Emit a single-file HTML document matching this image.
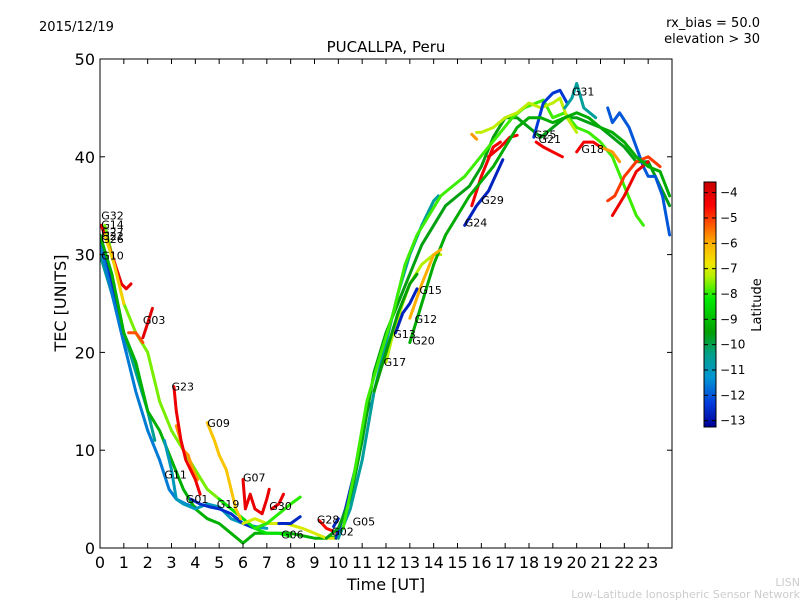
<!DOCTYPE html>
<html><head><meta charset="utf-8"><style>
body{margin:0;background:#fff;}
svg{display:block;font-family:"DejaVu Sans","Liberation Sans",sans-serif;}
</style></head><body>
<svg id="chart" width="800" height="600" viewBox="0 0 800 600">
<defs>
<linearGradient id="cbgrad" x1="0" y1="1" x2="0" y2="0"></linearGradient>
<clipPath id="plotclip"><rect x="100" y="59" width="572" height="489"/></clipPath>
</defs>
<rect x="0" y="0" width="800" height="600" fill="#fff"/>
<text x="39" y="31" font-size="13">2015/12/19</text>
<text x="760" y="27" font-size="13" text-anchor="end">rx_bias = 50.0</text>
<text x="760" y="43" font-size="13" text-anchor="end">elevation &gt; 30</text>
<text x="386" y="52" font-size="15" text-anchor="middle">PUCALLPA, Peru</text>
<g id="tracks" clip-path="url(#plotclip)"></g>
<g id="labels"></g>
<rect x="100" y="59" width="572" height="489" fill="none" stroke="#000" stroke-width="1"/>
<g id="axes"></g>
<text x="386" y="590" font-size="16" text-anchor="middle">Time [UT]</text>
<text x="66" y="303" font-size="16" text-anchor="middle" transform="rotate(-90 66 303)">TEC [UNITS]</text>
<rect id="cbar" x="704" y="182" width="12" height="245" fill="url(#cbgrad)" stroke="#000" stroke-width="1"/>
<g id="cbticks"></g>
<text x="761" y="305" font-size="13" text-anchor="middle" transform="rotate(-90 761 305)">Latitude</text>
<text x="800" y="586" font-size="11" fill="#ccc" text-anchor="end">LISN</text>
<text x="800" y="598" font-size="11" fill="#ccc" text-anchor="end">Low-Latitude Ionospheric Sensor Network</text>
</svg>
<script>
const xTicks=[0,1,2,3,4,5,6,7,8,9,10,11,12,13,14,15,16,17,18,19,20,21,22,23];
const yTicks=[0,10,20,30,40,50];
const cbTicks=[-4,-5,-6,-7,-8,-9,-10,-11,-12,-13];
const trackLat=[-10.5,-12.6,-11.6,-9.2,-7.6,-4.2,-5.2,-4.1,-6.5,-5.8,-11,-12.5,-8.3,-4.3,-6.3,-4.2,-7,-8,-12.6,-4.3,-12.6,-4.6,-12.6,-9.6,-10.6,-7.9,-7.2,-5.8,-12.7,-4.4,-4.3,-12.4,-4.4,-10.6,-4.4,-5.8,-12,-5,-4.3,-7.3,-9.3,-6,-12.7,-9.5];
const trackPts=[
[[0,30],[0.5,26],[1,22],[1.5,18],[2,14],[2.3,11]],
[[0,32],[0.5,27],[0.8,23],[1.1,20]],
[[0,31],[0.5,26],[1,21],[1.5,16],[2,12],[2.5,9],[2.9,6],[3.2,5],[3.6,4.5],[4,4.2]],
[[0,32],[0.5,28],[1,22],[1.5,19],[2,14],[2.5,12],[3,9],[3.5,6],[4,4],[4.5,3],[5,2.5],[5.5,1.5],[6,0.5],[6.5,1.5],[7,1.5],[8,1.5],[9,1],[9.5,1],[10,1.2]],
[[0.2,33],[0.6,29],[1,25],[1.5,22],[2,20],[2.5,15],[3,12],[3.5,10],[4,8],[4.5,6],[5,5],[5.5,4],[6,3]],
[[0.05,33],[0.5,30],[0.9,27],[1.1,26.5],[1.3,27]],
[[1.2,22],[1.5,22],[1.8,21]],
[[1.8,21.5],[2,23],[2.2,24.5]],
[[0.2,32],[0.6,29],[1,25]],
[[3.2,12.5],[3.5,10],[3.7,9.5],[3.9,8],[4.1,7]],
[[2.7,11],[3,8],[3.2,5],[3.5,4.5],[4,4],[4.5,4.5],[5,4.2],[5.5,3],[6,2.5],[6.5,2.2],[7,2]],
[[3.8,5],[4.2,4.5],[4.6,4.2],[5,4],[5.5,3.5],[6,2.5],[6.5,2],[7,2.5]],
[[5,5],[5.5,4],[6,3],[6.5,2],[7,1.5],[7.5,1.5],[8,1.2]],
[[3.1,16.5],[3.2,14],[3.4,11],[3.6,9],[3.8,8],[4,7],[4.2,5.5]],
[[4.5,12.8],[4.8,11],[5,9.5],[5.3,8],[5.5,6],[5.7,4],[5.9,3]],
[[6,7],[6.1,4],[6.3,5.5],[6.5,4],[6.8,3.5],[7,5],[7.1,6]],
[[6,2.5],[6.5,3],[7,2.5],[7.5,2.5],[7.8,2.5],[8.5,2],[9,1.5],[9.5,1],[10,1]],
[[6.5,2],[7,2.5],[7.5,3.5],[8,4.5],[8.4,5.2]],
[[7.5,2.5],[8,2.5],[8.4,3.2]],
[[7.2,4],[7.5,4.5],[7.7,5.5]],
[[9.8,2.2],[10,3]],
[[9.2,2.8],[9.5,2],[10,1.5]],
[[9.9,1],[10.3,4],[10.7,8],[11,12],[11.3,14.8]],
[[9.5,1],[10,2],[10.5,5],[11,11],[11.5,18],[12,22],[12.5,25],[13,28],[13.5,31],[14,33],[14.5,35],[15,36],[15.5,37],[16,39],[16.5,42],[17,44],[17.5,44],[18,43],[18.5,42],[19,43],[19.5,44],[20,44],[20.5,43.5],[21,43],[21.5,42],[22,41],[22.5,39.5],[23,39.5],[23.5,37],[23.9,35]],
[[10,1],[10.5,4],[11,9],[11.5,16],[12,21],[12.5,26],[13,30],[13.5,33],[14,35.5],[14.2,36]],
[[10.2,2],[10.7,8],[11.2,15],[11.8,20],[12.3,24],[12.8,29],[13.3,32],[13.8,34],[14.3,36],[14.8,37],[15.3,38],[15.8,39.5],[16.3,41],[16.8,42.5],[17.3,44],[17.8,45],[18.3,45.5],[18.6,45.8],[19,44],[19.5,44.5],[20,43],[20.5,42.5],[21,41.5],[21.5,40],[22,37],[22.5,34],[22.8,33]],
[[15.8,42.5],[16,42.5],[16.5,43],[17,44],[17.5,44.5],[18,45.5],[18.5,45],[19,45.5],[19.3,46],[19.6,44],[20,42.5]],
[[15.6,42.3],[15.8,41.8]],
[[15.3,33],[15.8,35],[16.3,36.5],[16.9,39.7]],
[[15.6,35],[16,38],[16.5,41],[16.8,41.5]],
[[16.3,40],[16.8,41],[17.2,42],[17.5,42.2]],
[[18.2,42],[18.6,45.5],[19,46.5],[19.3,46.8],[19.6,45.5]],
[[18.3,41.5],[18.6,41],[19,40.5],[19.4,40]],
[[19.5,45],[19.8,46],[20,47.5],[20.3,45],[20.8,44]],
[[20,40.5],[20.3,41.5],[20.7,41.5],[21,41]],
[[21,41],[21.5,40.5],[21.8,39.5]],
[[21.3,45],[21.5,43.5],[21.8,44.5],[22.2,43],[22.5,41],[22.8,39],[23,38],[23.3,38],[23.6,36],[23.9,32]],
[[21.3,35.5],[21.6,36],[22,38],[22.5,39.5],[23,40],[23.5,39]],
[[21.5,34],[22,36],[22.5,38.5],[23,39.5]],
[[12,19],[12.3,22],[12.7,25],[13,27],[13.5,29],[14,30],[14.3,30]],
[[13,21],[13.5,25],[14,29],[14.5,32],[15,34],[15.5,36],[16,37.5],[16.5,39],[17,41],[17.5,43],[18,44],[18.5,44],[19,43.5],[19.5,44],[20,44.5],[20.5,44],[21,43],[21.5,42.5],[22,41.5],[22.5,40],[23,39],[23.5,38.5],[23.9,36]],
[[13,23.5],[13.5,27],[14,30],[14.3,30.5]],
[[12.4,22],[12.7,24],[13,25],[13.3,26.5]],
[[11.5,16],[12,20],[12.5,24],[13,27],[13.3,28]]
];
const labelNames=["G32","G14","G27","G22","G26","G10","G03","G23","G09","G11","G01","G19","G07","G30","G06","G28","G02","G05","G17","G13","G20","G12","G15","G24","G29","G25","G21","G31","G18"];
const labelT=[0.05,0.05,0.05,0.05,0.05,0.05,1.8,3.0,4.5,2.7,3.6,4.9,6.0,7.1,7.6,9.1,9.7,10.6,11.9,12.3,13.1,13.2,13.4,15.3,16.0,18.2,18.4,19.8,20.2];
const labelV=[34,33.1,32.3,31.9,31.6,29.9,23.3,16.5,12.8,7.5,5.0,4.5,7.2,4.3,1.4,2.9,1.7,2.7,19.0,21.9,21.2,23.4,26.4,33.3,35.6,42.3,41.8,46.7,40.8];

const NS='http://www.w3.org/2000/svg';
const X0=100,X1=672,Y0=548,Y1=59;
function xs(t){return X0+t*(X1-X0)/24;}
function ys(v){return Y0-v*(Y0-Y1)/50;}
const cbMin=-13.25,cbMax=-3.58;
function cbY(l){return 427-(l-cbMin)*245/(cbMax-cbMin);}
const stops=[[-13.25,[0,0,150]],[-12.3,[0,60,220]],[-11.3,[0,150,210]],[-10.4,[0,160,140]],[-9.5,[0,160,0]],[-8.2,[0,235,0]],[-7.3,[180,240,0]],[-6.8,[240,230,0]],[-6,[255,175,0]],[-5.2,[255,80,0]],[-4.5,[250,0,0]],[-3.58,[200,0,0]]];
function col(l){
  if(l<=stops[0][0])return 'rgb('+stops[0][1]+')';
  for(let i=1;i<stops.length;i++){if(l<=stops[i][0]){const a=stops[i-1],b=stops[i],f=(l-a[0])/(b[0]-a[0]);return 'rgb('+a[1].map((c,k)=>Math.round(c+(b[1][k]-c)*f)).join(',')+')';}}
  return 'rgb('+stops[stops.length-1][1]+')';
}
const grad=document.getElementById('cbgrad');
stops.forEach(s=>{const st=document.createElementNS(NS,'stop');st.setAttribute('offset',((s[0]-cbMin)/(cbMax-cbMin)).toFixed(3));st.setAttribute('stop-color',col(s[0]));grad.appendChild(st);});

const tg=document.getElementById('tracks');
trackPts.forEach((pts,i)=>{
  const p=document.createElementNS(NS,'polyline');
  p.setAttribute('points',pts.map(q=>xs(q[0]).toFixed(1)+','+ys(q[1]).toFixed(1)).join(' '));
  p.setAttribute('fill','none');p.setAttribute('stroke',col(trackLat[i]));
  p.setAttribute('stroke-width','3');p.setAttribute('stroke-linejoin','round');p.setAttribute('stroke-linecap','round');
  
  
  tg.appendChild(p);
});
const lg=document.getElementById('labels');
labelNames.forEach((n,i)=>{
  const t=document.createElementNS(NS,'text');
  t.setAttribute('x',xs(labelT[i]).toFixed(1));t.setAttribute('y',(ys(labelV[i])+4).toFixed(1));
  t.setAttribute('font-size','11');t.textContent=n;
  
  
  lg.appendChild(t);
});
const ag=document.getElementById('axes');
function line(g,x1,y1,x2,y2){const l=document.createElementNS(NS,'line');l.setAttribute('x1',x1);l.setAttribute('y1',y1);l.setAttribute('x2',x2);l.setAttribute('y2',y2);l.setAttribute('stroke','#000');l.setAttribute('stroke-width','1');g.appendChild(l);return l;}
xTicks.forEach(v=>{
  const x=xs(v);line(ag,x,Y0,x,Y0-5);line(ag,x,Y1,x,Y1+5);
  const t=document.createElementNS(NS,'text');t.setAttribute('x',x);t.setAttribute('y',568);t.setAttribute('font-size','16');t.setAttribute('text-anchor','middle');t.textContent=v;
  
  
  ag.appendChild(t);
});
yTicks.forEach(v=>{
  const y=ys(v);line(ag,X0,y,X0+5,y);line(ag,X1,y,X1-5,y);
  const t=document.createElementNS(NS,'text');t.setAttribute('x',95);t.setAttribute('y',y+6);t.setAttribute('font-size','16');t.setAttribute('text-anchor','end');t.textContent=v;
  
  
  ag.appendChild(t);
});
const cg=document.getElementById('cbticks');
cbTicks.forEach(v=>{
  const y=cbY(v);line(cg,704,y,708,y);line(cg,716,y,712,y);
  const t=document.createElementNS(NS,'text');t.setAttribute('x',720);t.setAttribute('y',y+4);t.setAttribute('font-size','12');t.textContent=String(v).replace('-','\u2212');
  
  
  cg.appendChild(t);
});
</script>
</body></html>
